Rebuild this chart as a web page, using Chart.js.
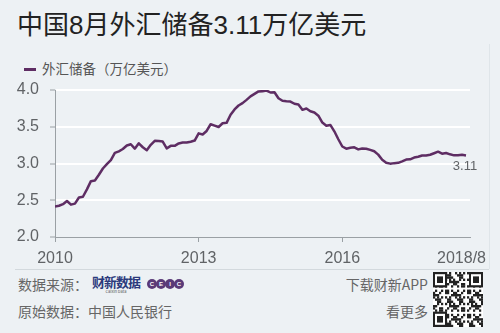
<!DOCTYPE html>
<html>
<head>
<meta charset="utf-8">
<script src="https://cdn.jsdelivr.net/npm/chart.js@4/dist/chart.umd.min.js"></script>
<style>
  html, body { margin: 0; padding: 0; }
  body {
    width: 500px; height: 333px; position: relative; overflow: hidden;
    background: #edf1f4;
    font-family: "Liberation Sans", "Noto Sans CJK SC", sans-serif;
  }
  #chart { position: absolute; left: 0; top: 0; z-index: 2; }
  .abs { position: absolute; white-space: nowrap; }
  #title { left: 17px; top: 10px; font-size: 26px; line-height: 30px; color: #222; }
  #legend { left: 24px; top: 60px; font-size: 13.5px; line-height: 17px; color: #555; font-family: "Noto Sans CJK SC", sans-serif; }
  #legend i { display: inline-block; width: 12px; height: 3px; background: #5e2d63; vertical-align: middle; margin-right: 6px; position: relative; top: -1px; }
  #panel-r { left: 489px; top: 44px; width: 1px; height: 225px; background: #dfe5e9; }
  #sep { left: 15px; top: 269px; width: 474px; height: 1px; background: #d3d9dd; }
  .foot { font-size: 14px; line-height: 18px; color: #666; font-family: "Noto Sans CJK SC", sans-serif; }
  #src { left: 18px; top: 275px; }
  #orig { left: 18px; top: 302px; }
  #dl { right: 72px; top: 275px; }
  #more { right: 72px; top: 302px; }
  #cx { left: 92px; top: 275px; font-size: 13px; font-weight: bold; color: #2b3a7c; font-family: "Noto Sans CJK SC", sans-serif; letter-spacing: -1px; line-height: 14px; }
  #cx small { display: block; font-size: 4px; font-weight: normal; text-align: center; line-height: 4px; color: #555; letter-spacing: 0; }
  #ceic { left: 147px; top: 279px; }
  #ceic span { display: inline-block; width: 10px; height: 10px; border-radius: 50%; background: #5a3a78; color: #fff; font-size: 6px; line-height: 10px; text-align: center; margin-right: -1px; font-weight: bold; vertical-align: top; }
  #qr { left: 433px; top: 272px; }
</style>
</head>
<body>
<canvas id="chart" width="500" height="333"></canvas>
<div class="abs" id="title">中国8月外汇储备3.11万亿美元</div>
<div class="abs" id="legend"><i></i>外汇储备（万亿美元）</div>
<div class="abs" id="panel-r"></div>
<div class="abs" id="sep"></div>
<div class="abs foot" id="src">数据来源：</div>
<div class="abs" id="cx">财新数据<small>Caixin Data</small></div>
<div class="abs" id="ceic"><span>C</span><span>E</span><span>I</span><span>C</span></div>
<div class="abs foot" id="orig">原始数据：中国人民银行</div>
<div class="abs foot" id="dl">下载财新APP</div>
<div class="abs foot" id="more">看更多</div>
<canvas class="abs" id="qr" width="50" height="55"></canvas>
<script>
// monthly FX reserves, Jan 2010 .. Aug 2018, trillion USD
const reserves = [
  2.415, 2.425, 2.447, 2.490, 2.440, 2.454, 2.538, 2.548, 2.648, 2.760, 2.768, 2.847,
  2.932, 2.991, 3.045, 3.145, 3.166, 3.197, 3.245, 3.262, 3.202, 3.274, 3.221, 3.181,
  3.254, 3.309, 3.305, 3.299, 3.206, 3.240, 3.240, 3.273, 3.285, 3.287, 3.297, 3.312,
  3.410, 3.395, 3.443, 3.534, 3.515, 3.497, 3.548, 3.553, 3.663, 3.736, 3.789, 3.821,
  3.866, 3.914, 3.948, 3.981, 3.984, 3.993, 3.966, 3.969, 3.887, 3.853, 3.847, 3.843,
  3.813, 3.802, 3.730, 3.748, 3.711, 3.694, 3.651, 3.557, 3.514, 3.525, 3.438, 3.330,
  3.231, 3.202, 3.213, 3.220, 3.192, 3.205, 3.201, 3.185, 3.166, 3.121, 3.052, 3.011,
  2.998, 3.005, 3.009, 3.030, 3.054, 3.057, 3.081, 3.092, 3.109, 3.109, 3.119, 3.140,
  3.161, 3.134, 3.143, 3.125, 3.111, 3.112, 3.118, 3.110
]
const tickMonths = [0, 36, 72, 103]
const tickLabels = ['2010', '2013', '2016', '2018/8']
const yTicks = [2.0, 2.5, 3.0, 3.5, 4.0]
const lastLabel = '3.11'

const LINE = '#5e2d63'
const AXIS = '#9aa0a4'
const TEXT = '#606366'
const NUM_FONT = '"Liberation Sans", sans-serif'
const LAST = tickMonths.length - 1

// end-of-line value plus the right-aligned last x label
const extraText = {
  id: 'extraText',
  afterDraw(chart) {
    const pts = chart.getDatasetMeta(0).data
    const p = pts[pts.length - 1]
    const ctx = chart.ctx
    const x = chart.scales.x
    ctx.save()
    ctx.fillStyle = TEXT
    ctx.textBaseline = 'middle'
    ctx.font = '13px ' + NUM_FONT
    ctx.textAlign = 'center'
    ctx.fillText(lastLabel, p.x - 1, p.y + 11)
    ctx.font = '16px ' + NUM_FONT
    ctx.textAlign = 'right'
    ctx.fillText(tickLabels[LAST], x.getPixelForValue(tickMonths[LAST]) + 20, x.top + 22)
    ctx.restore()
  }
}

new Chart(document.getElementById('chart'), {
  type: 'line',
  data: {
    datasets: [{
      data: reserves.map((v, i) => ({ x: i, y: v })),
      borderColor: LINE,
      borderWidth: 2.5,
      pointRadius: 0,
      tension: 0,
      borderJoinStyle: 'round'
    }]
  },
  options: {
    responsive: false,
    animation: false,
    layout: { padding: { left: 0, right: 30, top: 90, bottom: 66 } },
    plugins: { legend: { display: false }, tooltip: { enabled: false } },
    scales: {
      x: {
        type: 'linear', min: 0, max: 104,
        afterBuildTicks: (s) => { s.ticks = tickMonths.map(v => ({ value: v })) },
        afterFit: (s) => { s.height = 30 },
        ticks: {
          autoSkip: false, maxRotation: 0, padding: 7,
          color: TEXT, font: { size: 16, family: NUM_FONT },
          callback: (v) => tickMonths.indexOf(v) === LAST ? '' : tickLabels[tickMonths.indexOf(v)]
        },
        grid: {
          drawOnChartArea: false, tickLength: 5,
          tickColor: (c) => c.index === LAST ? 'rgba(0,0,0,0)' : AXIS
        },
        border: { color: AXIS, width: 1 }
      },
      y: {
        min: 2, max: 4,
        afterBuildTicks: (s) => { s.ticks = yTicks.map(v => ({ value: v })) },
        afterFit: (s) => { s.width = 55 },
        ticks: {
          padding: 11, color: TEXT,
          font: { size: 16, family: NUM_FONT },
          callback: (v) => v.toFixed(1)
        },
        grid: {
          color: (c) => c.tick && c.tick.value === 2 ? 'rgba(0,0,0,0)' : '#ffffff',
          lineWidth: 2, tickLength: 5, tickColor: AXIS, tickWidth: 1
        },
        border: { color: AXIS, width: 1 }
      }
    }
  },
  plugins: [extraText]
})

// QR-code-like decoration
const q = document.getElementById('qr').getContext('2d')
q.fillStyle = '#fff'
q.fillRect(0, 0, 50, 55)
const n = 25, cell = 50 / n, ch = 55 / n
q.fillStyle = '#222'
for (let r = 0; r < n; r++) {
  for (let c = 0; c < n; c++) {
    const h = (r * 31 + c * 17 + r * c * 7) % 11
    if (h < 5) q.fillRect(c * cell, r * ch, cell + 0.2, ch + 0.2)
  }
}
const finder = (x, y) => {
  q.fillStyle = '#222'; q.fillRect(x, y, 7 * cell, 7 * ch)
  q.fillStyle = '#fff'; q.fillRect(x + cell, y + ch, 5 * cell, 5 * ch)
  q.fillStyle = '#222'; q.fillRect(x + 2 * cell, y + 2 * ch, 3 * cell, 3 * ch)
}
finder(0, 0); finder(50 - 7 * cell, 0); finder(0, 55 - 7 * ch)
</script>
</body>
</html>
